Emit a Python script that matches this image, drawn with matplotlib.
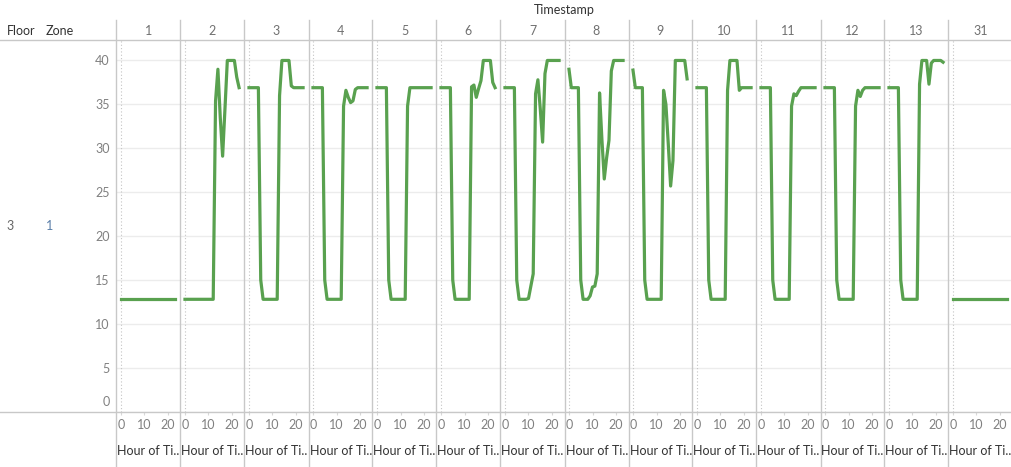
import matplotlib
matplotlib.use("Agg")
from matplotlib import pyplot as plt
from matplotlib.lines import Line2D

plt.rcParams["font.family"] = ["Lato", "DejaVu Sans"]

# data: hourly value per day (hour 0..23)
hours = list(range(24))
days = ["1", "2", "3", "4", "5", "6", "7", "8", "9", "10", "11", "12", "13", "31"]

day1 = [12.8, 12.8, 12.8, 12.8, 12.8, 12.8, 12.8, 12.8, 12.8, 12.8, 12.8, 12.8,
        12.8, 12.8, 12.8, 12.8, 12.8, 12.8, 12.8, 12.8, 12.8, 12.8, 12.8, 12.8]
day2 = [12.8, 12.8, 12.8, 12.8, 12.8, 12.8, 12.8, 12.8, 12.8, 12.8, 12.8, 12.8,
        12.8, 35.4, 39.0, 33.5, 29.1, 34.5, 40.0, 40.0, 40.0, 40.0, 38.1, 36.9]
day3 = [36.9, 36.9, 36.9, 36.9, 36.9, 15.0, 12.8, 12.8, 12.8, 12.8, 12.8, 12.8,
        12.8, 36.0, 40.0, 40.0, 40.0, 40.0, 37.1, 36.9, 36.9, 36.9, 36.9, 36.9]
day4 = [36.9, 36.9, 36.9, 36.9, 36.9, 15.0, 12.8, 12.8, 12.8, 12.8, 12.8, 12.8,
        12.8, 34.8, 36.6, 35.8, 35.2, 35.4, 36.7, 36.9, 36.9, 36.9, 36.9, 36.9]
day5 = [36.9, 36.9, 36.9, 36.9, 36.9, 15.0, 12.8, 12.8, 12.8, 12.8, 12.8, 12.8,
        12.8, 34.8, 36.9, 36.9, 36.9, 36.9, 36.9, 36.9, 36.9, 36.9, 36.9, 36.9]
day6 = [36.9, 36.9, 36.9, 36.9, 36.9, 15.0, 12.8, 12.8, 12.8, 12.8, 12.8, 12.8,
        12.8, 37.0, 37.2, 35.8, 36.8, 37.7, 40.0, 40.0, 40.0, 40.0, 37.5, 36.9]
day7 = [36.9, 36.9, 36.9, 36.9, 36.9, 15.0, 12.8, 12.8, 12.8, 12.8, 12.9, 14.3,
        15.7, 36.2, 37.8, 34.5, 30.7, 38.5, 40.0, 40.0, 40.0, 40.0, 40.0, 40.0]
day8 = [39.0, 36.9, 36.9, 36.9, 36.9, 15.0, 12.8, 12.8, 12.8, 13.2, 14.2, 14.3,
        15.7, 36.3, 31.0, 26.5, 28.9, 30.9, 38.8, 40.0, 40.0, 40.0, 40.0, 40.0]
day9 = [38.9, 36.9, 36.9, 36.9, 36.9, 15.0, 12.8, 12.8, 12.8, 12.8, 12.8, 12.8,
        12.8, 36.6, 35.0, 30.5, 25.7, 28.6, 40.0, 40.0, 40.0, 40.0, 40.0, 37.9]
day10 = [36.9, 36.9, 36.9, 36.9, 36.9, 15.0, 12.8, 12.8, 12.8, 12.8, 12.8, 12.8,
         12.8, 36.6, 40.0, 40.0, 40.0, 40.0, 36.6, 36.9, 36.9, 36.9, 36.9, 36.9]
day11 = [36.9, 36.9, 36.9, 36.9, 36.9, 15.0, 12.8, 12.8, 12.8, 12.8, 12.8, 12.8,
         12.8, 34.8, 36.2, 36.0, 36.5, 36.9, 36.9, 36.9, 36.9, 36.9, 36.9, 36.9]
day12 = [36.9, 36.9, 36.9, 36.9, 36.9, 15.0, 12.8, 12.8, 12.8, 12.8, 12.8, 12.8,
         12.8, 34.8, 36.6, 35.9, 36.6, 36.9, 36.9, 36.9, 36.9, 36.9, 36.9, 36.9]
day13 = [36.9, 36.9, 36.9, 36.9, 36.9, 15.0, 12.8, 12.8, 12.8, 12.8, 12.8, 12.8,
         12.8, 37.3, 40.0, 40.0, 40.0, 37.3, 39.7, 40.0, 40.0, 40.0, 40.0, 39.8]
day31 = [12.8, 12.8, 12.8, 12.8, 12.8, 12.8, 12.8, 12.8, 12.8, 12.8, 12.8, 12.8,
         12.8, 12.8, 12.8, 12.8, 12.8, 12.8, 12.8, 12.8, 12.8, 12.8, 12.8, 12.8]
series = [day1, day2, day3, day4, day5, day6, day7, day8, day9, day10, day11, day12, day13, day31]

yticks = [0, 5, 10, 15, 20, 25, 30, 35, 40]
ylabels = ["", "5", "10", "15", "20", "25", "30", "35", "40"]
xticks = [0, 10, 20]

W, H = 1012, 467
fig = plt.figure(figsize=(W / 100, H / 100), dpi=100)

def fx(px):
    return px / W

def fy(py):
    return 1 - py / H

left0, pw = 116.5, 64.0
top, bot = 40, 411.7
green = "#59a14f"
sep = "#c8c8c8"

for i, (day, vals) in enumerate(zip(days, series)):
    ax = fig.add_axes([fx(left0 + pw * i), fy(bot), pw / W, (bot - top) / H])
    ax.set_xlim(-1.9, 25.3)
    ax.set_ylim(0, 42.33)
    for s in ax.spines.values():
        s.set_visible(False)
    ax.set_yticks(yticks)
    ax.yaxis.grid(True, color="#ececec", lw=1)
    ax.set_axisbelow(True)
    ax.axvline(0, color="#c4c4c4", ls=(0, (1, 2)), lw=0.8, zorder=1)
    ax.plot(hours, vals, color=green, lw=2.3, zorder=3)

    ax.set_xticks(xticks)
    ax.tick_params(axis="x", length=2.5, width=0.8, color="#d8d8d8",
                   labelsize=9, labelcolor="#808080", pad=3)
    if i == 0:
        ax.set_yticklabels(ylabels)
        ax.tick_params(axis="y", length=0, labelsize=9, labelcolor="#808080", pad=5)
    else:
        ax.tick_params(axis="y", length=0, labelleft=False)

    fig.text(fx(left0 + pw * i + pw / 2), fy(31), day, ha="center", va="center",
             fontsize=9, color="#707070")
    fig.text(fx(left0 + pw * i + 1), fy(451), "Hour of Ti..", ha="left", va="center",
             fontsize=9, color="#333333")

# the bottom "0" label sits inside the pane, as in Tableau
fig.text(fx(109.5), fy(402), "0", ha="right", va="center", fontsize=9, color="#808080")

# panel separators and header lines
for i in range(15):
    x = fx(left0 + pw * i)
    fig.add_artist(Line2D([x, x], [fy(20), 0], color=sep, lw=1))
fig.add_artist(Line2D([0, 1], [fy(top), fy(top)], color=sep, lw=1))
fig.add_artist(Line2D([0, 1], [fy(bot), fy(bot)], color=sep, lw=1))

fig.text(fx(564), fy(10.5), "Timestamp", ha="center", va="center", fontsize=9, color="#333333")
fig.text(fx(6.5), fy(31), "Floor", ha="left", va="center", fontsize=9, color="#333333")
fig.text(fx(45.5), fy(31), "Zone", ha="left", va="center", fontsize=9, color="#333333")
fig.text(fx(6.5), fy(226), "3", ha="left", va="center", fontsize=9, color="#666666")
fig.text(fx(45.5), fy(226), "1", ha="left", va="center", fontsize=9, color="#5a7ea8")

plt.savefig("out.png", dpi=100)
